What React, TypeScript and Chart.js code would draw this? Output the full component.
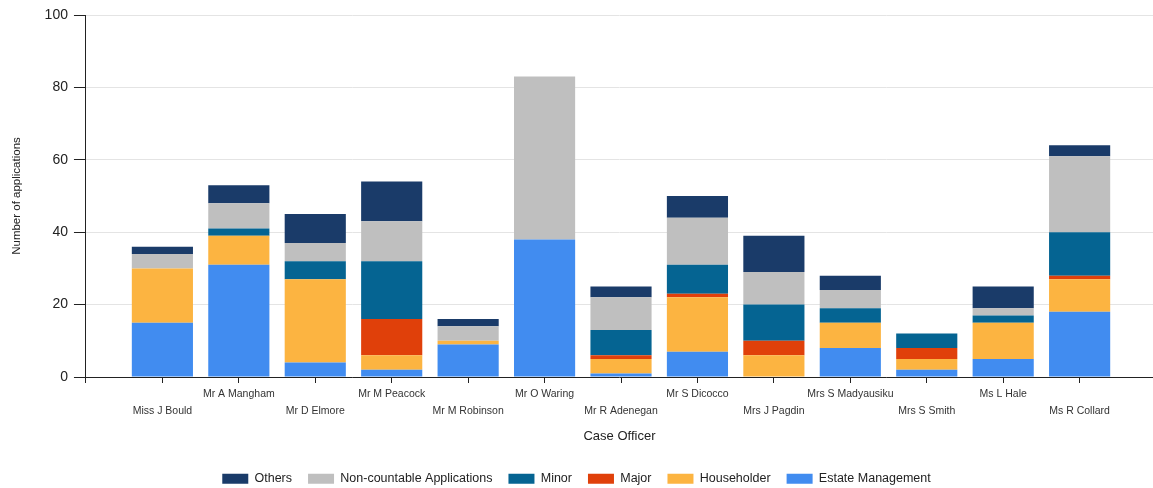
import React, { useEffect, useRef } from "react";
import { Chart, registerables } from "chart.js";

Chart.register(...registerables);

const officers = [
  "Miss J Bould",
  "Mr A Mangham",
  "Mr D Elmore",
  "Mr M Peacock",
  "Mr M Robinson",
  "Mr O Waring",
  "Mr R Adenegan",
  "Mr S Dicocco",
  "Mrs J Pagdin",
  "Mrs S Madyausiku",
  "Mrs S Smith",
  "Ms L Hale",
  "Ms R Collard",
];

const estateManagement = [15, 31, 4, 2, 9, 38, 1, 7, 0, 8, 2, 5, 18];
const householder = [15, 8, 23, 4, 1, 0, 4, 15, 6, 7, 3, 10, 9];
const major = [0, 0, 0, 10, 0, 0, 1, 1, 4, 0, 3, 0, 1];
const minor = [0, 2, 5, 16, 0, 0, 7, 8, 10, 4, 4, 2, 12];
const nonCountable = [4, 7, 5, 11, 4, 45, 9, 13, 9, 5, 0, 2, 21];
const others = [2, 5, 8, 11, 2, 0, 3, 6, 10, 4, 0, 6, 3];

const yTicks = [0, 20, 40, 60, 80, 100];

const seriesNames = [
  "Estate Management",
  "Householder",
  "Major",
  "Minor",
  "Non-countable Applications",
  "Others",
];
const seriesColors = ["#418CF0", "#FCB441", "#E0400A", "#056492", "#BFBFBF", "#1A3B69"];
const seriesValues = [estateManagement, householder, major, minor, nonCountable, others];

const FONT = "'Liberation Sans', Arial, Helvetica, sans-serif";
const TEXT = "#222";

export default function App() {
  const canvasRef = useRef<HTMLCanvasElement | null>(null);

  useEffect(() => {
    document.body.style.margin = "0";
    const canvas = canvasRef.current;
    if (!canvas) return;
    Chart.defaults.font.family = FONT;

    // x positions: officer i sits at position i + 1 on a numeric axis
    const positions = officers.map((_, i) => i + 1);

    const legendShift = {
      id: "legendShift",
      afterLayout(chart: any) {
        const l = chart.legend;
        if (l) {
          l.top += 7;
          l.bottom += 7;
        }
      },
    };

    const chart = new Chart(canvas, {
      type: "bar",
      data: {
        datasets: seriesNames.map((name, i) => ({
          label: name,
          data: seriesValues[i].map((v, j) => ({ x: positions[j], y: v })) as any,
          backgroundColor: seriesColors[i],
          borderWidth: 0,
          barPercentage: 1,
          categoryPercentage: 0.8,
        })),
      },
      options: {
        animation: false,
        responsive: true,
        maintainAspectRatio: false,
        layout: { padding: { top: 15, right: 0, left: 0, bottom: 0 } },
        plugins: {
          legend: {
            position: "bottom",
            reverse: true,
            labels: {
              boxWidth: 26,
              boxHeight: 10,
              padding: 16,
              color: TEXT,
              font: { size: 12.5, family: FONT },
            },
          },
          tooltip: { enabled: true },
        },
        scales: {
          x: {
            type: "linear",
            stacked: true,
            offset: false,
            min: 0,
            max: 13.96,
            afterBuildTicks: (scale: any) => {
              scale.ticks = [0, ...positions].map((v) => ({ value: v }));
            },
            grid: {
              offset: false,
              drawOnChartArea: false,
              drawTicks: true,
              tickLength: 6,
              tickColor: TEXT,
            },
            border: { color: TEXT, width: 1 },
            ticks: {
              autoSkip: false,
              maxRotation: 0,
              minRotation: 0,
              padding: 2.5,
              color: "#333",
              font: { size: 10.5, family: FONT, lineHeight: 17 / 10.5 },
              callback: (value: any) => {
                const idx = Math.round(Number(value)) - 1;
                if (idx < 0 || idx >= officers.length) return "";
                const name = officers[idx];
                return idx % 2 === 0 ? ["", name] : [name];
              },
            },
            title: {
              display: true,
              text: "Case Officer",
              color: TEXT,
              font: { size: 13, family: FONT, lineHeight: 1.2 },
              padding: { top: 6.7, bottom: 5.2 },
            },
          },
          y: {
            stacked: true,
            min: 0,
            max: 100,
            afterBuildTicks: (scale: any) => {
              scale.ticks = yTicks.map((v) => ({ value: v }));
            },
            grid: {
              color: "#e4e4e4",
              tickColor: TEXT,
              tickLength: 12,
            },
            border: { color: TEXT, width: 1 },
            ticks: {
              padding: 6,
              color: TEXT,
              font: { size: 14, family: FONT },
            },
            title: {
              display: true,
              text: "Number of applications",
              color: TEXT,
              font: { size: 11.5, family: FONT, lineHeight: 1.2 },
              padding: { top: 10, bottom: 14.8 },
            },
          },
        },
      },
      plugins: [legendShift],
    });

    return () => chart.destroy();
  }, []);

  return (
    <div style={{ position: "relative", width: "1153px", height: "488px" }}>
      <canvas ref={canvasRef} />
    </div>
  );
}
